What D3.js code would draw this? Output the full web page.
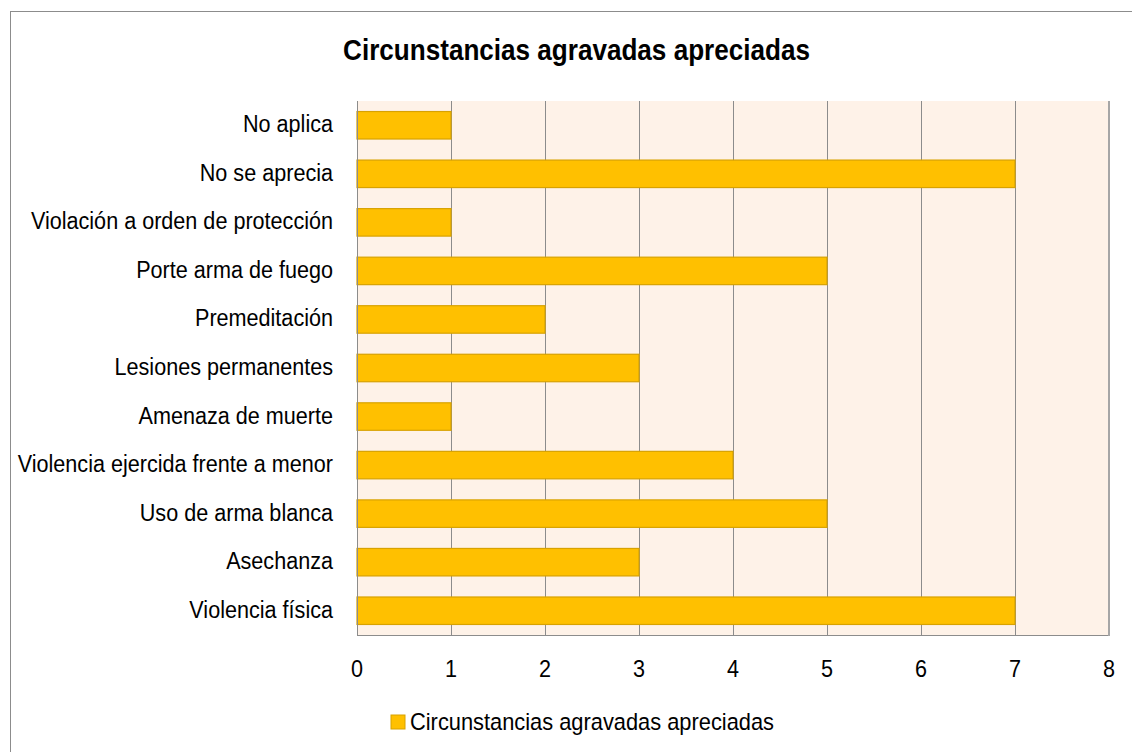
<!DOCTYPE html>
<html>
<head>
<meta charset="utf-8">
<script src="https://cdn.jsdelivr.net/npm/d3@7"></script>
<style>
  body { margin: 0; background: #fff; }
  text { font-family: "Liberation Sans", Arial, sans-serif; fill: #000; }
</style>
</head>
<body>
<svg></svg>
<script>
// chart data, top to bottom as in the picture
let categories = [
    'No aplica', 'No se aprecia', 'Violación a orden de protección',
    'Porte arma de fuego', 'Premeditación', 'Lesiones permanentes',
    'Amenaza de muerte', 'Violencia ejercida frente a menor',
    'Uso de arma blanca', 'Asechanza', 'Violencia física'
];
let values = [1, 7, 1, 5, 2, 3, 1, 4, 5, 3, 7];
let tickValues = [0, 1, 2, 3, 4, 5, 6, 7, 8];
let seriesName = 'Circunstancias agravadas apreciadas';
let title = 'Circunstancias agravadas apreciadas';

let width = 1132,
    height = 752;

let svg = d3.select("svg")
    .attr("width", width)
    .attr("height", height);

// outer frame (runs off the right and bottom edges)
svg.append("rect")
    .attr("x", 10.5).attr("y", 11.5)
    .attr("width", 1300).attr("height", 900)
    .attr("fill", "#fff")
    .attr("stroke", "#8c8c8c");

let plot = { left: 357, right: 1109, top: 101, bottom: 635 };

let x = d3.scaleLinear().domain([0, 8]).range([plot.left, plot.right]);
let y = d3.scaleBand().domain(categories)
    .range([plot.top, plot.bottom])
    .paddingInner(0.434)
    .paddingOuter(0.217);

let squeeze = 0.9;  // the source font is a bit narrower than Liberation Sans

// plot background
svg.append("rect")
    .attr("x", plot.left).attr("y", plot.top)
    .attr("width", plot.right - plot.left)
    .attr("height", plot.bottom - plot.top)
    .attr("fill", "#fef2e8");

// vertical gridlines
svg.append("g").selectAll("line")
    .data(tickValues.slice(1, -1))
    .enter().append("line")
    .attr("x1", d => Math.round(x(d)) + 0.5)
    .attr("x2", d => Math.round(x(d)) + 0.5)
    .attr("y1", plot.top).attr("y2", plot.bottom)
    .attr("stroke", "#8c8c8c");

// bars
svg.append("g").selectAll("rect")
    .data(values)
    .enter().append("rect")
    .attr("x", x(0))
    .attr("y", (d, i) => y(categories[i]))
    .attr("width", d => x(d) - x(0))
    .attr("height", y.bandwidth())
    .attr("fill", "#ffc000")
    .attr("stroke", "#d8a200")
    .attr("stroke-width", 1.2);

// plot borders: left, bottom, right
svg.append("line")
    .attr("x1", plot.left + 0.5).attr("x2", plot.left + 0.5)
    .attr("y1", plot.top).attr("y2", plot.bottom + 1)
    .attr("stroke", "#8c8c8c");
svg.append("line")
    .attr("x1", plot.left).attr("x2", plot.right + 1)
    .attr("y1", plot.bottom + 0.5).attr("y2", plot.bottom + 0.5)
    .attr("stroke", "#8c8c8c");
svg.append("line")
    .attr("x1", plot.right).attr("x2", plot.right)
    .attr("y1", plot.top).attr("y2", plot.bottom + 1)
    .attr("stroke", "#a6a6a6")
    .attr("stroke-width", 2);

// category labels
svg.append("g").selectAll("text")
    .data(categories)
    .enter().append("text")
    .attr("transform", d => `translate(333, ${y(d) + y.bandwidth() / 2 + 7}) scale(${squeeze}, 1.03)`)
    .attr("text-anchor", "end")
    .attr("font-size", 24)
    .text(d => d);

// x tick labels
svg.append("g").selectAll("text")
    .data(tickValues)
    .enter().append("text")
    .attr("transform", d => `translate(${x(d)}, 677) scale(${squeeze}, 1.03)`)
    .attr("text-anchor", "middle")
    .attr("font-size", 24)
    .text(d => d);

// title
svg.append("text")
    .attr("transform", `translate(576.5, 60) scale(0.9, 1.02)`)
    .attr("text-anchor", "middle")
    .attr("font-size", 29)
    .attr("font-weight", "bold")
    .text(title);

// legend
let legend = svg.append("g").attr("transform", "translate(391, 715)");
legend.append("rect")
    .attr("width", 14).attr("height", 14)
    .attr("fill", "#ffc000")
    .attr("stroke", "#d8a200");
legend.append("text")
    .attr("transform", `translate(19, 15) scale(0.91, 1.03)`)
    .attr("font-size", 24)
    .text(seriesName);
</script>
</body>
</html>
